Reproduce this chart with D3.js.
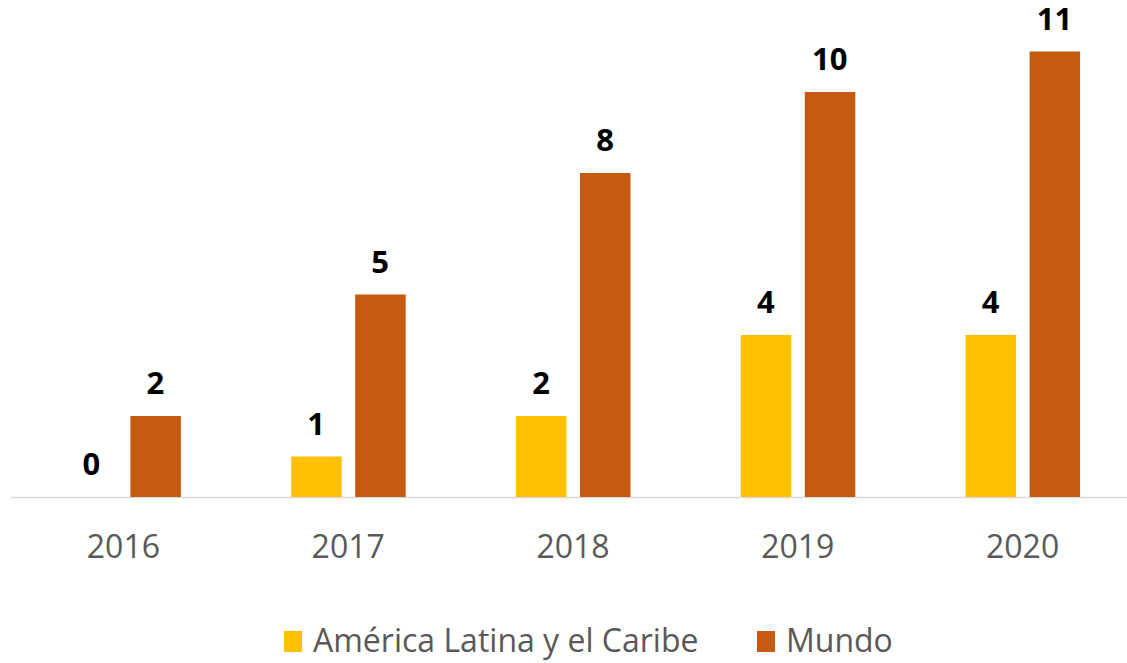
<!DOCTYPE html>
<html><head><meta charset="utf-8">
<script src="https://cdn.jsdelivr.net/npm/d3@7"></script>
<style>body{margin:0;background:#fff}svg{display:block}</style>
</head><body>
<script>
const categories = ["2016","2017","2018","2019","2020"];
const seriesNames = ["América Latina y el Caribe","Mundo"];
const latam = [0,1,2,4,4];
const mundo = [2,5,8,10,11];
const colors = ["#FFC000","#C55A11"];

const W=1127,H=663;
const svg=d3.select("body").append("svg").attr("width",W).attr("height",H);
const x=d3.scaleBand().domain(categories).range([11,1135]).padding(0);
const y=d3.scaleLinear().domain([0,11]).range([497,51.5]);

const data=categories.map((c,i)=>({cat:c,vals:[latam[i],mundo[i]]}));
const g=svg.append("g");
g.append("line").attr("x1",11).attr("x2",W).attr("y1",497.5).attr("y2",497.5)
 .attr("stroke","#d9d9d9").attr("stroke-width",1.5);

const grp=g.selectAll("g.grp").data(data).join("g")
 .attr("transform",d=>`translate(${x(d.cat)+x.bandwidth()/2},0)`);
grp.selectAll("rect").data(d=>d.vals.map((v,k)=>({v,k}))).join("rect")
 .attr("x",d=>-32-25+d.k*64).attr("width",50.5)
 .attr("y",d=>y(d.v)).attr("height",d=>y(0)-y(d.v))
 .attr("fill",d=>colors[d.k]);
grp.selectAll("text.lbl").data(d=>d.vals.map((v,k)=>({v,k}))).join("text")
 .attr("class","lbl").attr("x",d=>-32+d.k*64).attr("y",d=>y(d.v)-22)
 .attr("text-anchor","middle").attr("font-family","Open Sans").attr("font-weight","bold")
 .attr("font-size",31).attr("fill","#000").text(d=>d.v);

const xAxis=d3.axisBottom(x).tickSize(0).tickPadding(0);
const ax=svg.append("g").attr("transform","translate(0,558)").call(xAxis);
ax.select(".domain").remove();
ax.selectAll("text").attr("font-family","Open Sans").attr("font-size",32).attr("fill","#595959").attr("dy",0);

const leg=svg.append("g");
const legItems=[{n:seriesNames[0],c:colors[0],x:284},{n:seriesNames[1],c:colors[1],x:757}];
legItems.forEach(it=>{
 leg.append("rect").attr("x",it.x).attr("y",631).attr("width",18).attr("height",21).attr("fill",it.c);
 leg.append("text").attr("x",it.x+29).attr("y",652).attr("font-family","Open Sans")
  .attr("font-size",32).attr("fill","#595959").text(it.n);
});
</script>
</body></html>
